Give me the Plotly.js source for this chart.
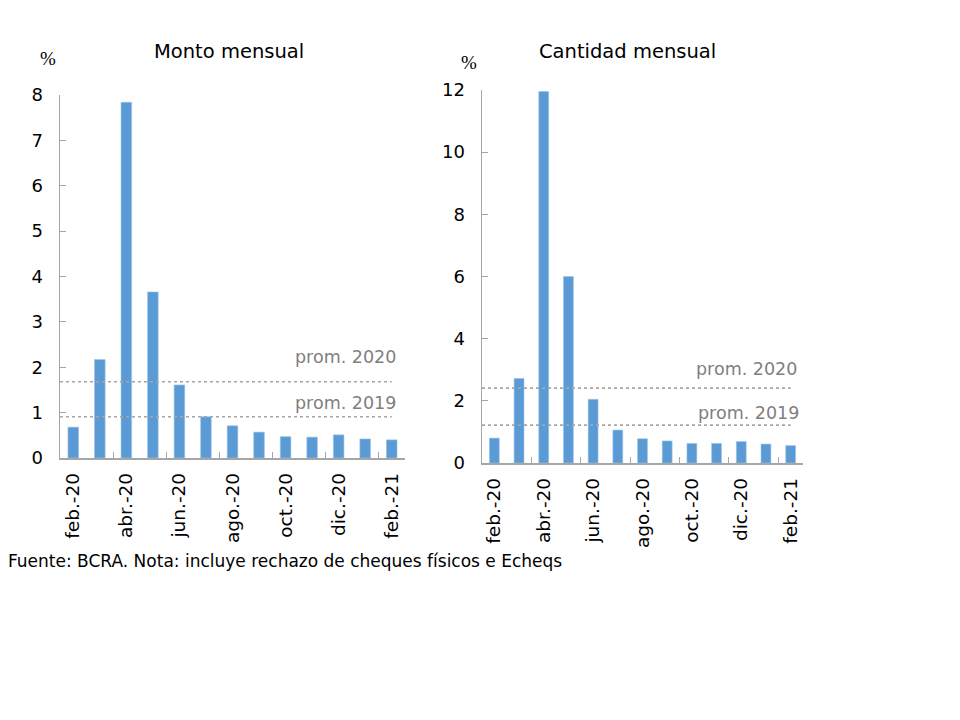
<!DOCTYPE html>
<html><head><meta charset="utf-8">
<script src="https://cdn.plot.ly/plotly-3.0.1.min.js"></script>
<style>body{margin:0;background:#fff}#c{width:960px;height:720px}</style>
</head><body><div id="c"></div>
<script>
const months = ["feb.-20","mar.-20","abr.-20","may.-20","jun.-20","jul.-20","ago.-20","sep.-20","oct.-20","nov.-20","dic.-20","ene.-21","feb.-21"];
const tickLabels = ["feb.-20","abr.-20","jun.-20","ago.-20","oct.-20","dic.-20","feb.-21"];
const montoMensual = [0.68,2.17,7.84,3.66,1.61,0.91,0.71,0.57,0.47,0.46,0.51,0.42,0.40];
const cantidadMensual = [0.80,2.72,11.95,6.00,2.05,1.06,0.78,0.71,0.63,0.63,0.69,0.61,0.56];
const montoProm2020 = 1.68, montoProm2019 = 0.91;
const cantProm2020 = 2.41, cantProm2019 = 1.22;

const barColor = "#5B9BD5";
const axisGray = "#a6a6a6";
const font = "DejaVu Sans, Verdana, sans-serif";

const traces = [
  {type:"bar", x:months, y:montoMensual, xaxis:"x", yaxis:"y", width:0.4,
   marker:{color:barColor, line:{color:"#9dc3e6", width:0.6}}, hoverinfo:"x+y"},
  {type:"bar", x:months, y:cantidadMensual, xaxis:"x2", yaxis:"y2", width:0.4,
   marker:{color:barColor, line:{color:"#9dc3e6", width:0.6}}, hoverinfo:"x+y"}
];

function xax(domain){
  return {domain:domain, type:"category", categoryorder:"array", categoryarray:months,
    range:[-0.5,12.5], tickmode:"array", tickvals:tickLabels, ticktext:tickLabels,
    tickson:"boundaries", ticks:"inside", ticklen:6, tickcolor:axisGray, tickangle:-90,
    showline:true, linecolor:axisGray, linewidth:1.5, showgrid:false, zeroline:false,
    tickfont:{family:font, size:18.5, color:"#000"}, ticklabelstandoff:6, fixedrange:true};
}
function yax(domain, range, dtick, anchor){
  return {domain:domain, anchor:anchor, range:range, dtick:dtick, tick0:0, ticks:"inside", ticklen:6,
    tickcolor:axisGray, showline:true, linecolor:axisGray, linewidth:1.5, showgrid:false, zeroline:false,
    tickfont:{family:font, size:18, color:"#000"}, ticklabelstandoff:12, fixedrange:true};
}

const dotLine = {color:axisGray, width:1.6, dash:"dot"};
const shapes = [
  {type:"line", xref:"x", yref:"y", x0:-0.5, x1:12, y0:montoProm2020, y1:montoProm2020, line:dotLine},
  {type:"line", xref:"x", yref:"y", x0:-0.5, x1:12, y0:montoProm2019, y1:montoProm2019, line:dotLine},
  {type:"line", xref:"x2", yref:"y2", x0:-0.5, x1:12, y0:cantProm2020, y1:cantProm2020, line:dotLine},
  {type:"line", xref:"x2", yref:"y2", x0:-0.5, x1:12, y0:cantProm2019, y1:cantProm2019, line:dotLine}
];

const gray = "#7f7f7f";
function pa(text, x, y, opts){
  return Object.assign({text:text, xref:"paper", yref:"paper", x:x/960, y:1-y/720, showarrow:false,
    xanchor:"center", yanchor:"middle", font:{family:font, size:17, color:"#000"}}, opts||{});
}
const annotations = [
  pa("Monto mensual", 229, 52, {font:{family:font, size:19.5, color:"#000"}}),
  pa("Cantidad mensual", 627, 52, {font:{family:font, size:19.5, color:"#000"}}),
  pa("%", 48, 58, {font:{family:"Liberation Serif, serif", size:19, color:"#000"}}),
  pa("%", 469, 62, {font:{family:"Liberation Serif, serif", size:19, color:"#000"}}),
  pa("prom. 2020", 398, 357, {xanchor:"right", font:{family:font, size:17.5, color:gray}}),
  pa("prom. 2019", 398, 403, {xanchor:"right", font:{family:font, size:17.5, color:gray}}),
  pa("prom. 2020", 799, 369, {xanchor:"right", font:{family:font, size:17.5, color:gray}}),
  pa("prom. 2019", 801, 413, {xanchor:"right", font:{family:font, size:17.5, color:gray}}),
  pa("Fuente: BCRA. Nota: incluye rechazo de cheques físicos e Echeqs", 6, 561,
     {xanchor:"left", font:{family:font, size:17, color:"#000"}})
];

const layout = {
  width:960, height:720, margin:{l:0,r:0,t:0,b:0},
  paper_bgcolor:"#fff", plot_bgcolor:"#fff", showlegend:false, bargap:0.6,
  xaxis: Object.assign(xax([60/960, 405/960]), {anchor:"y"}),
  yaxis: yax([1-458/720, 1-95/720], [0,8], 1, "x"),
  xaxis2: Object.assign(xax([482/960, 803/960]), {anchor:"y2"}),
  yaxis2: yax([1-463/720, 1-90/720], [0,12], 2, "x2"),
  shapes:shapes, annotations:annotations
};
Plotly.newPlot("c", traces, layout, {displayModeBar:false, staticPlot:true});
</script></body></html>
